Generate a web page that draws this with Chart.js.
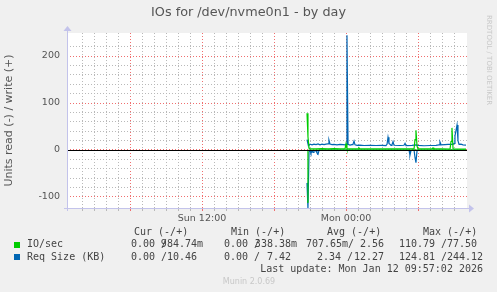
<!DOCTYPE html>
<html>
<head>
<meta charset="utf-8">
<title>IOs for /dev/nvme0n1 - by day</title>
<script src="https://cdn.jsdelivr.net/npm/chart.js@4"></script>
<style>
    html, body { margin: 0; padding: 0; background: #f0f0f0; }
    canvas { display: block; }
</style>
</head>
<body>
<canvas id="ioChart" width="497" height="292"></canvas>
<script>
// [hours since Sun 00:00, value]; read (-) series are kept positive and flipped when drawn
const ioWrite = [
    [20.75, 78], [20.83, 28], [20.92, 4], [21.0, 3], [21.5, 2.5], [22.0, 3], [22.5, 2.5],
    [23.0, 2.8], [23.5, 2.5], [23.92, 2.5], [24.0, 13], [24.08, 3], [24.17, 2.5], [25.0, 2.2],
    [25.08, 4.5], [25.17, 2.2], [26.0, 2.5], [27.0, 2.2], [28.0, 2.4], [29.0, 2.2], [29.67, 2.5],
    [29.75, 22], [29.83, 42], [29.92, 8], [30.0, 2.5], [31.17, 2.2], [31.25, 4.5], [31.33, 2.2],
    [32.0, 2.2], [32.67, 2], [32.75, 18], [32.83, 47], [32.92, 2.5], [33.5, 2], [34.0, 1.8]
];
const ioRead = [
    [20.75, 110.79], [20.83, 2], [20.92, 0], [34.0, 0]
];
const reqWrite = [
    [20.75, 22], [20.83, 13], [20.92, 10], [21.0, 12.5], [21.17, 11], [21.33, 12.5], [21.5, 11.5],
    [21.67, 13], [21.83, 11], [22.0, 12.5], [22.17, 11.5], [22.33, 12.5], [22.5, 13], [22.58, 21],
    [22.67, 12.5], [22.83, 11.5], [23.0, 12], [23.25, 11], [23.5, 12], [23.75, 11.5], [23.92, 11],
    [24.0, 12], [24.08, 244.12], [24.17, 12], [24.33, 10.5], [24.5, 11.5], [24.58, 12], [24.67, 19],
    [24.75, 11], [24.92, 10], [25.17, 10.5], [25.5, 9.5], [26.0, 10], [26.5, 9.5], [27.0, 10],
    [27.33, 9.5], [27.42, 12], [27.5, 27], [27.58, 14], [27.67, 12], [27.75, 10], [27.83, 11],
    [27.92, 18], [28.0, 10], [28.5, 9.5], [28.83, 10], [28.92, 14], [29.0, 9.5], [29.5, 10],
    [29.83, 11], [30.0, 10], [30.5, 9], [31.0, 9.5], [31.5, 10], [31.75, 11], [31.83, 17],
    [31.92, 11], [32.25, 11.5], [32.5, 12], [32.92, 12], [33.0, 14], [33.08, 30], [33.17, 42],
    [33.25, 53], [33.33, 20], [33.42, 12], [33.58, 12.5], [33.75, 11], [34.0, 10.46]
];
const reqRead = [
    [20.75, 70], [20.83, 124.81], [20.92, 4], [21.0, 1], [21.08, 7], [21.17, 2], [21.25, 5],
    [21.33, 1], [21.5, 2], [21.58, 6], [21.67, 9], [21.75, 1], [21.92, 0], [29.25, 0],
    [29.33, 11], [29.42, 1], [29.67, 0], [29.75, 16], [29.83, 27], [29.92, 1], [30.0, 0], [34.0, 0]
];

const seriesNames = ['IO/sec', 'Req Size (KB)'];
const statHeaders = ['Cur (-/+)', 'Min (-/+)', 'Avg (-/+)', 'Max (-/+)'];
// [read, write] per column: Cur, Min, Avg, Max
const ioStats = [['0.00', '984.74m'], ['0.00', '338.38m'], ['707.65m', '2.56'], ['110.79', '77.50']];
const reqStats = [['0.00', '10.46'], ['0.00', '7.42'], ['2.34', '12.27'], ['124.81', '244.12']];
const xTickLabels = { 12: 'Sun 12:00', 24: 'Mon 00:00' };
const chartTitle = 'IOs for /dev/nvme0n1 - by day';
const yAxisTitle = 'Units read (-) / write (+)';
const lastUpdate = 'Last update: Mon Jan 12 09:57:02 2026';
const footer = 'Munin 2.0.69';
const watermark = 'RRDTOOL / TOBI OETIKER';

const GREEN = '#00cc00';
const BLUE = '#0066b3';
const MINOR = 'rgb(185, 185, 185)';
const MAJOR = 'rgb(240, 110, 110)';
const AXIS = 'rgb(195, 195, 235)';
const TEXT = '#555';

function toPoints(rows, sign) {
    return rows.map(([h, v]) => ({ x: h, y: sign * v }));
}

// background, zero rule, axis arrows and the rrd style texts
const muninDecor = {
    id: 'muninDecor',
    beforeDraw(chart) {
        const { ctx, chartArea: a } = chart;
        ctx.save();
        ctx.fillStyle = '#f0f0f0';
        ctx.fillRect(0, 0, chart.width, chart.height);
        ctx.fillStyle = '#ffffff';
        ctx.fillRect(a.left, a.top, a.right - a.left, a.bottom - a.top);
        ctx.restore();
    },
    afterDatasetsDraw(chart) {
        const { ctx, chartArea: a, scales } = chart;
        const y0 = Math.round(scales.y.getPixelForValue(0)) + 0.5;
        ctx.save();
        ctx.strokeStyle = '#000';
        ctx.lineWidth = 1;
        ctx.beginPath();
        ctx.moveTo(a.left, y0);
        ctx.lineTo(a.right, y0);
        ctx.stroke();

        // axes with arrow heads
        ctx.strokeStyle = AXIS;
        ctx.fillStyle = AXIS;
        ctx.beginPath();
        ctx.moveTo(a.left - 3, a.bottom + 0.5);
        ctx.lineTo(a.right + 3, a.bottom + 0.5);
        ctx.moveTo(a.left + 0.5, a.bottom + 3);
        ctx.lineTo(a.left + 0.5, a.top - 3);
        ctx.stroke();
        ctx.beginPath();
        ctx.moveTo(a.right + 2, a.bottom - 3.5);
        ctx.lineTo(a.right + 7, a.bottom + 0.5);
        ctx.lineTo(a.right + 2, a.bottom + 4.5);
        ctx.closePath();
        ctx.fill();
        ctx.beginPath();
        ctx.moveTo(a.left - 3.5, a.top - 2);
        ctx.lineTo(a.left + 0.5, a.top - 7);
        ctx.lineTo(a.left + 4.5, a.top - 2);
        ctx.closePath();
        ctx.fill();
        ctx.restore();
    },
    afterDraw(chart) {
        const { ctx } = chart;
        ctx.save();
        ctx.textBaseline = 'middle';

        ctx.fillStyle = TEXT;
        ctx.font = '12.8px "DejaVu Sans"';
        ctx.textAlign = 'center';
        ctx.fillText(chartTitle, 248.5, 13);

        ctx.fillStyle = '#c8c8c8';
        ctx.font = '7px "DejaVu Sans"';
        ctx.save();
        ctx.translate(489, 15);
        ctx.rotate(Math.PI / 2);
        ctx.textAlign = 'left';
        ctx.fillText(watermark, 0, 0);
        ctx.restore();

        // legend table, rrdtool style: slash at a fixed spot, values may run over it
        ctx.font = '10px "DejaVu Sans Mono"';
        ctx.fillStyle = '#444';
        ctx.textAlign = 'left';
        const headerX = [134, 231, 327, 423];
        statHeaders.forEach((t, i) => ctx.fillText(t, headerX[i], 232.5));

        const rows = [
            { name: seriesNames[0], color: GREEN, stats: ioStats, y: 244.5,
              starts: [131, 224, 306, 399], slash: [161, 254, 348, 441], ends: [203, 297, 384, 477] },
            { name: seriesNames[1], color: BLUE, stats: reqStats, y: 257,
              starts: [131, 224, 317, 399], slash: [161, 254, 347, 441], ends: [197, 291, 384, 483] }
        ];
        rows.forEach(r => {
            ctx.fillStyle = r.color;
            ctx.fillRect(14, Math.round(r.y) - 3, 6, 6);
            ctx.fillStyle = '#444';
            ctx.textAlign = 'left';
            ctx.fillText(r.name, 27, r.y);
            r.stats.forEach(([rd, wr], i) => {
                ctx.textAlign = 'left';
                ctx.fillText(rd, r.starts[i], r.y);
                ctx.fillText('/', r.slash[i], r.y);
                ctx.textAlign = 'right';
                ctx.fillText(wr, r.ends[i], r.y);
            });
        });

        ctx.textAlign = 'right';
        ctx.fillText(lastUpdate, 483, 269.5);

        ctx.fillStyle = '#c8c8c8';
        ctx.font = '8px "DejaVu Sans"';
        ctx.textAlign = 'center';
        ctx.fillText(footer, 249, 281.5);
        ctx.restore();
    }
};

function renderChart() {
    const ctx = document.getElementById('ioChart').getContext('2d');

    new Chart(ctx, {
        type: 'line',
        data: {
            datasets: [
                { label: 'IO/sec write', data: toPoints(ioWrite, 1), borderColor: GREEN },
                { label: 'IO/sec read', data: toPoints(ioRead, -1), borderColor: GREEN },
                { label: 'Req Size write', data: toPoints(reqWrite, 1), borderColor: BLUE },
                { label: 'Req Size read', data: toPoints(reqRead, -1), borderColor: BLUE }
            ].map(d => Object.assign(d, { borderWidth: 1.2, pointRadius: 0, tension: 0, fill: false }))
        },
        options: {
            responsive: false,
            animation: false,
            events: [],
            layout: { padding: { top: 33, right: 30, left: 0, bottom: 0 } },
            plugins: { legend: { display: false }, tooltip: { enabled: false } },
            scales: {
                x: {
                    type: 'linear',
                    min: 0.75,
                    max: 34.083,
                    afterFit: s => { s.height = 84; },
                    afterBuildTicks: s => { s.ticks = s.ticks.filter(t => Number.isInteger(t.value)); },
                    border: { display: false, dash: [1, 2] },
                    grid: {
                        color: c => (c.tick && c.tick.value % 6 === 0 ? MAJOR : MINOR),
                        tickLength: 3
                    },
                    ticks: {
                        stepSize: 1,
                        autoSkip: false,
                        maxRotation: 0,
                        padding: 2,
                        color: TEXT,
                        font: { family: 'DejaVu Sans', size: 9.5 },
                        callback: v => xTickLabels[v] || ''
                    }
                },
                y: {
                    min: -123.5,
                    max: 249,
                    afterFit: s => { s.width = 67; },
                    afterBuildTicks: s => { s.ticks = s.ticks.filter(t => t.value % 20 === 0); },
                    border: { display: false, dash: [1, 2] },
                    grid: {
                        color: c => (c.tick && c.tick.value % 100 === 0 ? MAJOR : MINOR),
                        drawTicks: false
                    },
                    ticks: {
                        stepSize: 20,
                        autoSkip: false,
                        padding: 7,
                        color: TEXT,
                        font: { family: 'DejaVu Sans', size: 9.5 },
                        callback: v => (v % 100 === 0 ? String(v) : '')
                    },
                    title: {
                        display: true,
                        text: yAxisTitle,
                        color: TEXT,
                        font: { family: 'DejaVu Sans', size: 11 },
                        padding: { top: 3, bottom: 0 }
                    }
                }
            }
        },
        plugins: [muninDecor]
    });
}

renderChart();
</script>
</body>
</html>
